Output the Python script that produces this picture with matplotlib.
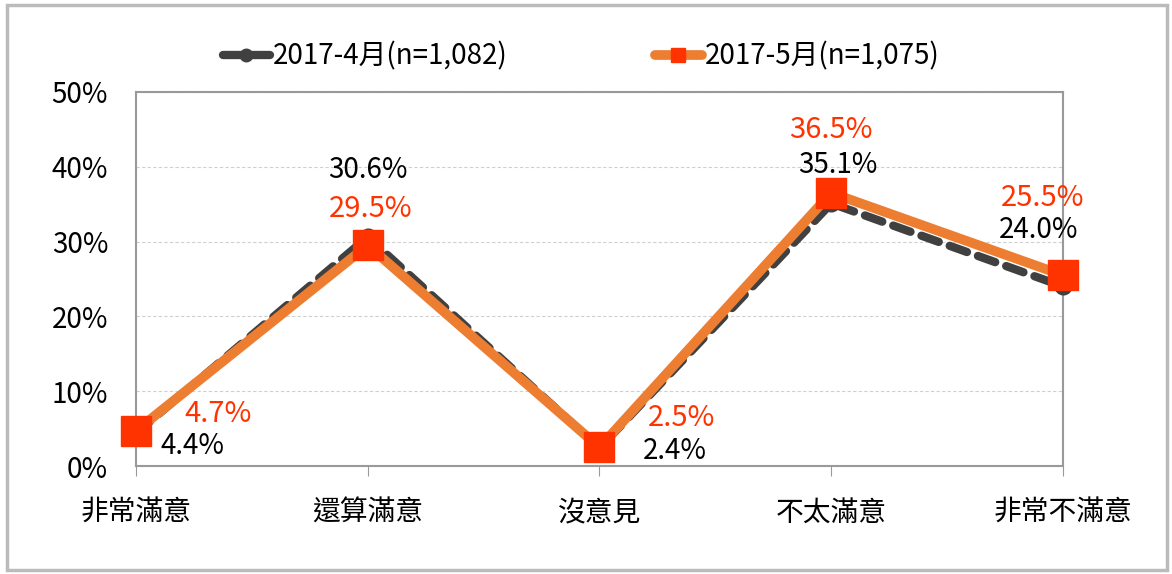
import matplotlib.pyplot as plt
from matplotlib.patches import Rectangle
from matplotlib.lines import Line2D

plt.rcParams['font.family'] = ['Noto Sans CJK TC', 'DejaVu Sans']

categories = ['非常滿意', '還算滿意', '沒意見', '不太滿意', '非常不滿意']
april = [4.4, 30.6, 2.4, 35.1, 24.0]
may = [4.7, 29.5, 2.5, 36.5, 25.5]
april_label = '2017-4月(n=1,082)'
may_label = '2017-5月(n=1,075)'

# label offsets in pixels (dx, dy) for each point
april_offsets = [(57, -13), (0, 67), (75, -3), (7, 38), (-24, 56)]
may_offsets = [(82, 17), (3, 36), (82, 29), (0, 63), (-20, 77)]

GRAY = '#404040'
ORANGE = '#ED7D31'
RED = '#FF3300'

fig = plt.figure(figsize=(11.72, 5.74), dpi=100)
ax = fig.add_axes([0.116, 0.188, 0.791, 0.652])

x = list(range(len(categories)))
ax.plot(x, april, color=GRAY, lw=6, ls=(0, (2.2, 1.4)), dash_capstyle='round',
        marker='o', ms=12, mfc=GRAY, mec=GRAY, zorder=3, clip_on=False)
ax.plot(x, may, color=ORANGE, lw=7, solid_capstyle='round',
        marker='s', ms=21, mfc=RED, mec=RED, zorder=4, clip_on=False)

for i in x:
    ax.annotate(f'{april[i]:.1f}%', (i, april[i]), xytext=april_offsets[i],
                textcoords='offset pixels', ha='center', va='center',
                fontsize=20, color='black', zorder=5)
    ax.annotate(f'{may[i]:.1f}%', (i, may[i]), xytext=may_offsets[i],
                textcoords='offset pixels', ha='center', va='center',
                fontsize=21, color=RED, zorder=5)

ax.set_xlim(0, 4)
ax.set_ylim(0, 50)
ax.set_yticks(range(0, 51, 10))
ax.set_yticklabels([f'{v}%' for v in range(0, 51, 10)], fontsize=20)
ax.set_xticks(x)
ax.set_xticklabels(categories, fontsize=20)
ax.tick_params(axis='x', length=7, color='#999999', pad=16)
ax.tick_params(axis='y', length=0, pad=20)
ax.grid(axis='y', color='#d0d0d0', ls=(0, (3, 2)), lw=0.8)
for s in ax.spines.values():
    s.set_color('#999999')
    s.set_linewidth(1.5)

handles = [
    Line2D([], [], color=GRAY, lw=6, solid_capstyle='round',
           marker='o', ms=9, mfc=GRAY, mec=GRAY),
    Line2D([], [], color=ORANGE, lw=7, solid_capstyle='round',
           marker='s', ms=10, mfc=RED, mec=RED),
]
ax.legend(handles, [april_label, may_label], loc='center',
          bbox_to_anchor=(0.48, 1.094), ncol=2, frameon=False, fontsize=20,
          handlelength=1.7, handletextpad=0.1, columnspacing=5.3)

fig.patches.append(Rectangle((0.006, 0.007), 0.99, 0.985, transform=fig.transFigure,
                             fill=False, edgecolor='#bbbbbb', lw=2.5))

fig.savefig('out.png', dpi=100)
